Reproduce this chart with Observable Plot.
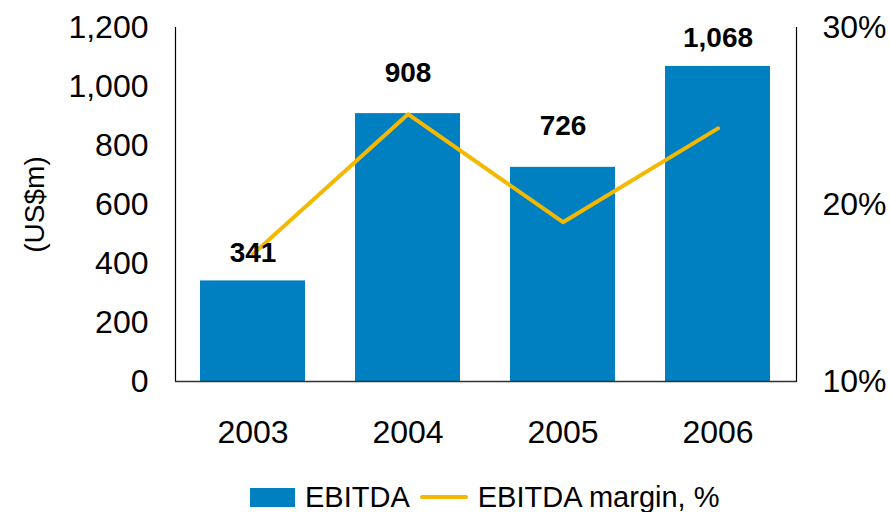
<!DOCTYPE html>
<html>
<head>
<meta charset="utf-8">
<script src="https://cdn.jsdelivr.net/npm/d3@7"></script>
<script src="https://cdn.jsdelivr.net/npm/@observablehq/plot@0.6"></script>
<style>
  html, body { margin: 0; padding: 0; background: #fff; }
  body { width: 890px; height: 512px; overflow: hidden; font-family: "Liberation Sans", Arial, sans-serif; }
  #legend { display: flex; align-items: center; height: 30px; margin-top: 12px; margin-left: 250px; font-size: 29px; color: #000; white-space: nowrap; }
  .sw-bar { width: 45px; height: 19px; background: #0080C0; margin-right: 10px; }
  .sw-line { width: 48px; height: 4px; background: #F5B800; margin-left: 10px; margin-right: 10px; border-radius: 2px; }
</style>
</head>
<body>
<div id="chart"></div>
<div id="legend"><span class="sw-bar"></span><span>EBITDA</span><span class="sw-line"></span><span>EBITDA margin, %</span></div>
<script>
const years = ["2003", "2004", "2005", "2006"];
const ebitda = [341, 908, 726, 1068];
const marginPct = [17.2, 25.1, 19.0, 24.3];
const leftTicks = [0, 200, 400, 600, 800, 1000, 1200];
const rightTicks = [10, 20, 30];
const raisedLabels = ["2004", "2005"];

const data = years.map((year, i) => ({year, ebitda: ebitda[i], margin: marginPct[i]}));
const y2 = d3.scaleLinear([10, 30], [0, 1200]);
const fmt = d3.format(",");

const chart = Plot.plot({
  width: 890,
  height: 470,
  marginLeft: 175,
  marginRight: 94,
  marginTop: 27,
  marginBottom: 89,
  style: {fontFamily: '"Liberation Sans", Arial, sans-serif', color: "#000", background: "#fff"},
  x: {domain: years, paddingInner: 0.32, paddingOuter: 0.16, label: null},
  y: {domain: [0, 1200], label: null},
  marks: [
    Plot.barY(data, {x: "year", y: "ebitda", fill: "#0080C0"}),
    Plot.line(data, {x: "year", y: d => y2(d.margin), stroke: "#F5B800", strokeWidth: 4}),
    Plot.frame({anchor: "left", stroke: "#000", strokeWidth: 1.2}),
    Plot.frame({anchor: "right", stroke: "#000", strokeWidth: 1.2}),
    Plot.ruleY([0], {stroke: "#333", strokeWidth: 1.5}),
    Plot.text(data.filter(d => !raisedLabels.includes(d.year)), {x: "year", y: "ebitda", text: d => fmt(d.ebitda), dy: -28, fontSize: 28, fontWeight: "bold", fill: "#000"}),
    Plot.text(data.filter(d => raisedLabels.includes(d.year)), {x: "year", y: "ebitda", text: d => fmt(d.ebitda), dy: -41, fontSize: 28, fontWeight: "bold", fill: "#000"}),
    Plot.axisY(leftTicks, {anchor: "left", tickSize: 0, tickPadding: 27, tickFormat: fmt, fontSize: 32, label: null}),
    Plot.axisY(rightTicks, {anchor: "right", y: y2, tickSize: 0, tickPadding: 26, tickFormat: d => d + "%", fontSize: 32, label: null}),
    Plot.axisX({tickSize: 0, tickPadding: 39, fontSize: 32, label: null}),
    Plot.text(["(US$m)"], {frameAnchor: "left", textAnchor: "middle", dx: -140, rotate: -90, fontSize: 28, fill: "#000"})
  ]
});
document.getElementById("chart").appendChild(chart);
</script>
</body>
</html>
